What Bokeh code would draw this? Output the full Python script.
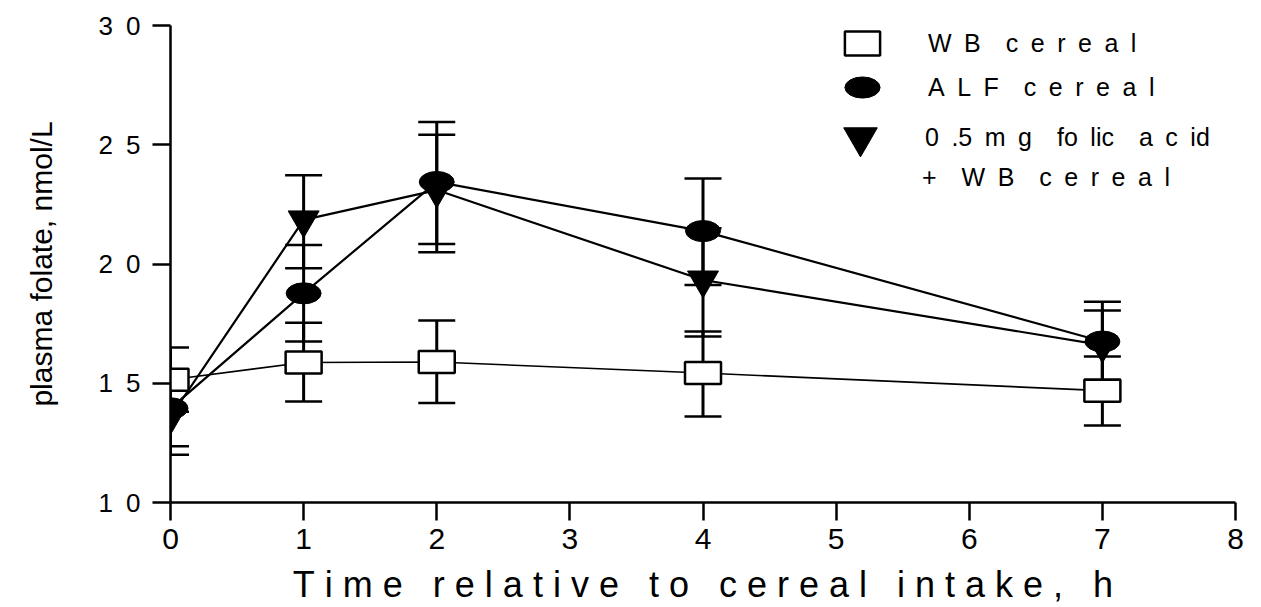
from bokeh.plotting import figure
from bokeh.models import (ColumnDataSource, Whisker, TeeHead, FixedTicker, Legend, LegendItem, Range1d)
from bokeh.embed import file_html
from bokeh.resources import INLINE

# ---- data ----
times = [0, 1, 2, 4, 7]

wb_mean = [15.15, 15.87, 15.89, 15.43, 14.69]
wb_upper = [16.5, 17.54, 17.63, 17.17, 16.12]
wb_lower = [13.8, 14.24, 14.17, 13.61, 13.23]

alf_mean = [13.95, 18.77, 23.44, 21.38, 16.75]
alf_upper = [15.4, 20.8, 25.95, 23.59, 18.42]
alf_lower = [12.36, 16.75, 20.84, 19.12, 15.1]

fa_mean = [13.6, 21.85, 23.1, 19.33, 16.6]
fa_upper = [15.2, 23.72, 25.42, 21.5, 18.05]
fa_lower = [12.0, 19.82, 20.49, 16.96, 15.15]

x_ticks = [0, 1, 2, 3, 4, 5, 6, 7, 8]
y_ticks = [10, 15, 20, 25, 30]
EN = "\u2002"
NB = "\u00a0"
y_tick_labels = {t: EN.join(str(t)) for t in y_ticks}

series_labels = [
    "W" + EN + "B" + EN + EN + EN.join("cereal"),
    EN.join("ALF") + EN + EN + EN.join("cereal"),
    "0" + EN + ".5" + EN + "m" + EN + "g" + EN + EN + "fo" + EN + "lic" + EN + EN + "a" + EN + "c" + EN + "id",
    "+" + EN + EN + "W" + EN + "B" + EN + EN + EN.join("cereal"),
]

x_title_words = ["Time", "relative", "to", "cereal", "intake,", "h"]
x_title = (NB * 3).join(NB.join(w) for w in x_title_words)
y_title = "plasma folate, nmol/L"

FONT = "Liberation Sans"

p = figure(width=1261, height=607, output_backend="svg", toolbar_location=None,
           x_range=Range1d(0, 8), y_range=Range1d(10, 30),
           min_border_left=170, min_border_right=26, min_border_top=25, min_border_bottom=104)
p.outline_line_color = None
p.grid.visible = False
p.background_fill_color = "white"
p.border_fill_color = "white"

# axes
p.xaxis.ticker = FixedTicker(ticks=x_ticks)
p.yaxis.ticker = FixedTicker(ticks=y_ticks)
p.yaxis.major_label_overrides = y_tick_labels
for ax in (p.xaxis[0], p.yaxis[0]):
    ax.axis_line_width = 2.5
    ax.axis_line_color = "black"
    ax.major_tick_line_width = 2.5
    ax.major_tick_line_color = "black"
    ax.major_tick_in = 0
    ax.major_tick_out = 18
    ax.minor_tick_line_color = None
    ax.major_label_text_color = "black"
    ax.axis_label_text_color = "black"
    ax.axis_label_text_font_style = "normal"

p.yaxis.major_label_text_font = FONT
p.yaxis.major_label_text_font_size = "26px"
p.yaxis.major_label_standoff = 12
p.yaxis.axis_label = y_title
p.yaxis.axis_label_text_font = FONT
p.yaxis.axis_label_text_font_size = "30px"
p.yaxis.axis_label_standoff = 38

p.xaxis.major_label_text_font = FONT
p.xaxis.major_label_text_font_size = "30px"
p.xaxis.major_label_standoff = 8
p.xaxis.axis_label = x_title
p.xaxis.axis_label_text_font = FONT
p.xaxis.axis_label_text_font_size = "36px"
p.xaxis.axis_label_standoff = 12

src_wb = ColumnDataSource(dict(x=times, y=wb_mean, up=wb_upper, lo=wb_lower))
src_alf = ColumnDataSource(dict(x=times, y=alf_mean, up=alf_upper, lo=alf_lower))
src_fa = ColumnDataSource(dict(x=times, y=fa_mean, up=fa_upper, lo=fa_lower))

# connecting lines
p.line("x", "y", source=src_wb, line_color="black", line_width=1.6)
p.line("x", "y", source=src_alf, line_color="black", line_width=2.2)
p.line("x", "y", source=src_fa, line_color="black", line_width=2.2)

# error bars
for src in (src_wb, src_alf, src_fa):
    w = Whisker(source=src, base="x", upper="up", lower="lo",
                line_color="black", line_width=3,
                upper_head=TeeHead(size=37, line_color="black", line_width=2.5),
                lower_head=TeeHead(size=37, line_color="black", line_width=2.5))
    p.add_layout(w)

# markers
r_wb = p.rect("x", "y", source=src_wb, width=36, height=22, width_units="screen", height_units="screen",
              fill_color="white", line_color="black", line_width=2.5)
r_alf = p.ellipse("x", "y", source=src_alf, width=35, height=21, width_units="screen", height_units="screen",
                  fill_color="black", line_color="black")
r_fa = p.scatter("x", "y", source=src_fa, marker="inverted_triangle", size=31,
                 fill_color="black", line_color="black")
r_blank = p.scatter(x=[], y=[], marker="square", size=1, fill_alpha=0, line_alpha=0)


def make_legend(label, renderer, loc, gw, gh, standoff):
    return Legend(items=[LegendItem(label=label, renderers=[renderer])],
                  location=loc, padding=0, spacing=0, margin=0,
                  glyph_width=gw, glyph_height=gh, label_height=gh,
                  label_standoff=standoff, label_text_font=FONT, label_text_font_size="25px",
                  label_text_color="black",
                  border_line_color=None, background_fill_alpha=0)


p.add_layout(make_legend(series_labels[0], r_wb, (670, 444), 44, 30, 44))
p.add_layout(make_legend(series_labels[1], r_alf, (670, 393), 44, 44, 44))
p.add_layout(make_legend(series_labels[2], r_fa, (648, 323), 84, 84, 23))
p.add_layout(make_legend(series_labels[3], r_blank, (670, 310), 44, 30, 38))

open("out.html", "w").write(file_html(p, INLINE))
